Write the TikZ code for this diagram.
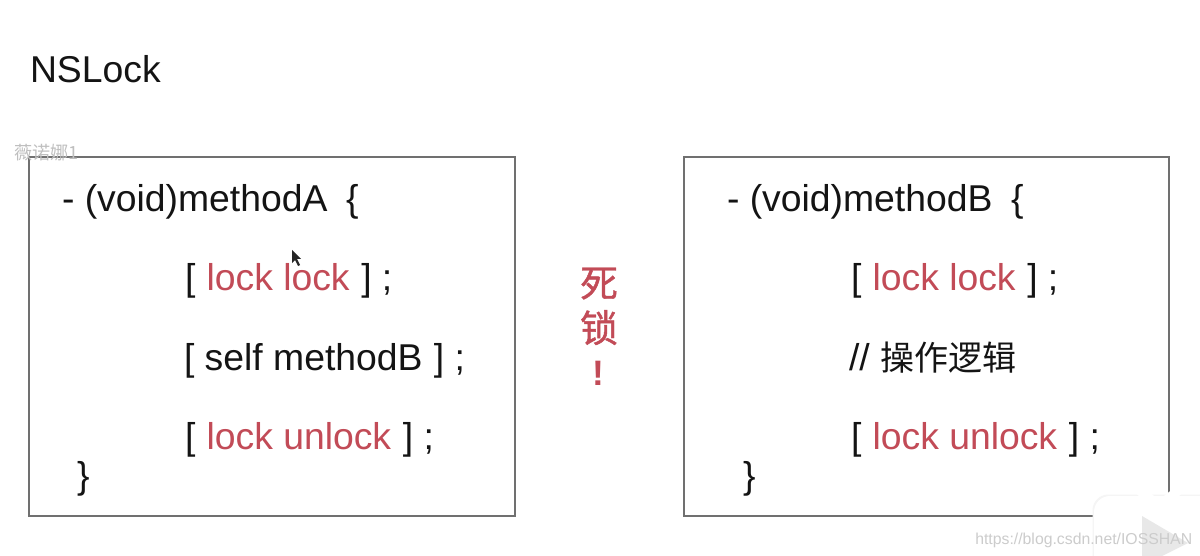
\documentclass[tikz,border=0pt]{standalone}
\usepackage{fontspec}
\setmainfont{Liberation Sans}
\newfontfamily\cjk{Noto Sans CJK SC}
\newfontfamily\cjkm[FakeBold=1.2]{Noto Sans CJK SC}
\definecolor{lockred}{HTML}{C24B57}
\definecolor{boxgray}{HTML}{707070}
\tikzset{x=0.75pt,y=-0.75pt,
  txt/.style={anchor=base west,inner sep=0pt,outer sep=0pt,font=\fontsize{28pt}{32pt}\selectfont,text=black!92},
  codebox/.style={draw=boxgray,line width=1.15pt,fill=white},
  deadmark/.style={anchor=base,inner sep=0pt,text=lockred,font=\cjkm\fontsize{28.2pt}{32pt}\selectfont}}
\newcommand{\rd}[1]{\hspace{0.6pt}\textcolor{lockred}{#1}\hspace{0.9pt}}
\begin{document}
\begin{tikzpicture}
\useasboundingbox[fill=white] (0,0) rectangle (1200,556);
\node[txt] (title) at (30,83) {NSLock};
\node[codebox,minimum width=486*0.75pt,minimum height=359*0.75pt,anchor=north west,inner sep=0pt] (boxA) at (28,156) {};
\node[codebox,minimum width=485*0.75pt,minimum height=359*0.75pt,anchor=north west,inner sep=0pt] (boxB) at (683,156) {};
\node[anchor=base west,inner sep=0pt,text=black!25,font=\cjk\fontsize{13.6pt}{14pt}\selectfont] (wm) at (14,160) {薇诺娜1};
% method A
\node[txt] (a1) at (62,212) {- (void)methodA\,\,\,\{};
\node[txt] (a2) at (185,291) {[ \rd{lock lock} ] ;};
\node[txt] (a3) at (184,370) {[ self methodB\hspace{0.7pt} ] ;};
\node[txt] (a4) at (185,449) {[ \rd{lock unlock} ] ;};
\node[txt] (a5) at (77,488) {\}};
% method B
\node[txt] (b1) at (727,212) {- (void)methodB\,\,\,\{};
\node[txt] (b2) at (851,291) {[ \rd{lock lock} ] ;};
\node[txt] (b3) at (849,370) {// {\cjk\fontsize{25.5pt}{30pt}\selectfont 操作逻辑}};
\node[txt] (b4) at (851,449) {[ \rd{lock unlock} ] ;};
\node[txt] (b5) at (743,488) {\}};
% deadlock
\node[deadmark] (d1) at (599,297) {死};
\node[deadmark] (d2) at (599,342) {锁};
\node[deadmark,font=\fontsize{26.5pt}{32pt}\selectfont\bfseries] (d3) at (598,385) {!};
% cursor
\fill[black!85] (292,250) -- (292,263) -- (295,260) -- (298,266) -- (300,265) -- (297,259) -- (301,259) -- cycle;
% logo
\fill[black!4,rounded corners=12pt] (1092.5,570) -- (1092.5,494.5) -- (1220,494.5) -- (1220,570) -- cycle;
\fill[white,rounded corners=12pt] (1094,570) -- (1094,496) -- (1220,496) -- (1220,570) -- cycle;
\draw[white,line width=7pt,line cap=round] (1130,483) -- (1158,505) (1188,483) -- (1160,505);
\fill[black!9] (1142,516) -- (1188,543) -- (1142,566) -- cycle;
\node[anchor=base west,inner sep=0pt,text=black!20,font=\fontsize{11.85pt}{14pt}\selectfont] (url) at (975,544) {https://blog.csdn.net/IOSSHAN};
\end{tikzpicture}
\end{document}
